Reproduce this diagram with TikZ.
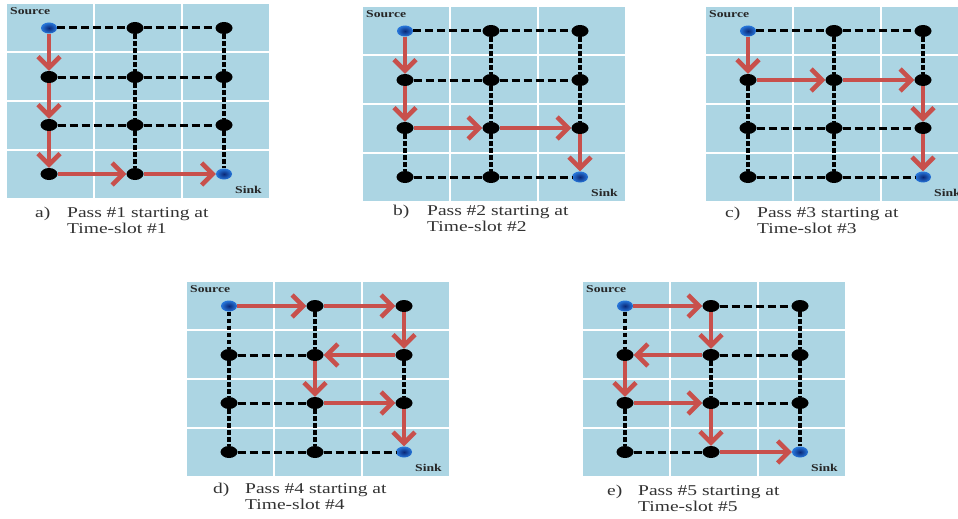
\documentclass[tikz,border=0pt]{standalone}
\usepackage{fontspec}
\setmainfont{Liberation Serif}
\newfontfamily\capfont[FakeStretch=1.3]{Liberation Serif}
\usetikzlibrary{shapes.geometric,arrows.meta}
\definecolor{tileblue}{RGB}{172,213,227}
\definecolor{arrowred}{RGB}{200,80,76}
\definecolor{srcin}{RGB}{10,40,120}
\definecolor{srcout}{RGB}{40,120,220}
\definecolor{captext}{RGB}{50,50,50}
\tikzset{
 gnode/.style={ellipse, fill=black, minimum width=17pt, minimum height=12pt, inner sep=0pt},
 snode/.style={ellipse, inner color=srcin, outer color=srcout, minimum width=16pt, minimum height=11pt, inner sep=0pt},
 hdash/.style={draw=black, line width=3pt, dash pattern=on 8pt off 4pt},
 vdash/.style={draw=black, line width=3.6pt, dash pattern=on 4.5pt off 2.5pt},
 redarrow/.style={draw=arrowred, line width=4.5pt, -{Straight Barb[length=11pt,width=22pt]}},
 lbl/.style={font=\capfont\bfseries\fontsize{10.5}{11}\selectfont, text=black!85, inner sep=0pt},
 captxt/.style={font=\capfont\fontsize{15}{16}\selectfont, text=captext, inner sep=0pt, anchor=base west},
}
\newcommand\gridpanel[3]{%
 \foreach \i in {0,1,2}{\foreach \j in {0,1,2,3}{%
   \fill[tileblue] ({#2+\i*88},{#3+\j*49}) rectangle ++(86,47);}}
 \foreach \r/\y in {1/24,2/73,3/121,4/170}{\foreach \c/\x in {1/42,2/128,3/217}{%
   \ifnum\r\c=11\relax \node[snode] (#1\r\c) at ({#2+\x},{#3+\y}) {};%
   \else\ifnum\r\c=43\relax \node[snode] (#1\r\c) at ({#2+\x},{#3+\y}) {};%
   \else \node[gnode] (#1\r\c) at ({#2+\x},{#3+\y}) {};\fi\fi}}
 \node[lbl, anchor=west] (#1src) at ({#2+3},{#3+7}) {Source};
 \node[lbl, anchor=east] (#1snk) at ({#2+255},{#3+186}) {Sink};
}
\newcommand\pcaption[6]{%
 \node[captxt] (#1cl) at (#2,{#4+5}) {#5)};
 \node[captxt] (#1ca) at (#3,{#4+5}) {Pass \##6 starting at};
 \node[captxt] (#1cb) at (#3,{#4+21}) {Time-slot \##6};
}
\begin{document}
\begin{tikzpicture}[x=1pt,y=-1pt]
\useasboundingbox (0,0) rectangle (958,519);
\fill[white] (0,0) rectangle (958,519);
\clip (0,0) rectangle (958,519);
% ---------- panel a
\gridpanel{a}{7}{4}
\draw[hdash] (a11)--(a12) (a12)--(a13) (a21)--(a22) (a22)--(a23) (a31)--(a32) (a32)--(a33);
\draw[vdash] (a12)--(a22) (a22)--(a32) (a32)--(a42) (a13)--(a23) (a23)--(a33) (a33)--(a43);
\draw[redarrow] (a11)--(a21);
\draw[redarrow] (a21)--(a31);
\draw[redarrow] (a31)--(a41);
\draw[redarrow] (a41)--(a42);
\draw[redarrow] (a42)--(a43);
\pcaption{a}{35}{67}{212}{a}{1}
% ---------- panel b
\gridpanel{b}{363}{7}
\draw[hdash] (b11)--(b12) (b12)--(b13) (b21)--(b22) (b22)--(b23) (b41)--(b42) (b42)--(b43);
\draw[vdash] (b31)--(b41) (b12)--(b22) (b22)--(b32) (b32)--(b42) (b13)--(b23) (b23)--(b33);
\draw[redarrow] (b11)--(b21);
\draw[redarrow] (b21)--(b31);
\draw[redarrow] (b31)--(b32);
\draw[redarrow] (b32)--(b33);
\draw[redarrow] (b33)--(b43);
\pcaption{b}{393}{427}{210}{b}{2}
% ---------- panel c
\gridpanel{c}{706}{7}
\draw[hdash] (c11)--(c12) (c12)--(c13) (c31)--(c32) (c32)--(c33) (c41)--(c42) (c42)--(c43);
\draw[vdash] (c21)--(c31) (c31)--(c41) (c12)--(c22) (c22)--(c32) (c32)--(c42) (c13)--(c23);
\draw[redarrow] (c11)--(c21);
\draw[redarrow] (c21)--(c22);
\draw[redarrow] (c22)--(c23);
\draw[redarrow] (c23)--(c33);
\draw[redarrow] (c33)--(c43);
\pcaption{c}{725}{757}{212}{c}{3}
% ---------- panel d
\gridpanel{d}{187}{282}
\draw[hdash] (d21)--(d22) (d31)--(d32) (d41)--(d42) (d42)--(d43);
\draw[vdash] (d11)--(d21) (d21)--(d31) (d31)--(d41) (d12)--(d22) (d32)--(d42) (d23)--(d33);
\draw[redarrow] (d11)--(d12);
\draw[redarrow] (d12)--(d13);
\draw[redarrow] (d13)--(d23);
\draw[redarrow] (d23)--(d22);
\draw[redarrow] (d22)--(d32);
\draw[redarrow] (d32)--(d33);
\draw[redarrow] (d33)--(d43);
\pcaption{d}{213}{245}{488}{d}{4}
% ---------- panel e
\gridpanel{e}{583}{282}
\draw[hdash] (e12)--(e13) (e22)--(e23) (e32)--(e33) (e41)--(e42);
\draw[vdash] (e11)--(e21) (e31)--(e41) (e22)--(e32) (e13)--(e23) (e23)--(e33) (e33)--(e43);
\draw[redarrow] (e11)--(e12);
\draw[redarrow] (e12)--(e22);
\draw[redarrow] (e22)--(e21);
\draw[redarrow] (e21)--(e31);
\draw[redarrow] (e31)--(e32);
\draw[redarrow] (e32)--(e42);
\draw[redarrow] (e42)--(e43);
\pcaption{e}{607}{638}{490}{e}{5}
\end{tikzpicture}
\end{document}
